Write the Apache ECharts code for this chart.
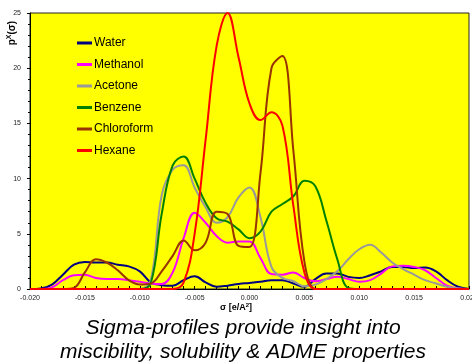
<!DOCTYPE html>
<html>
<head>
<meta charset="utf-8">
<script src="https://cdn.jsdelivr.net/npm/echarts@6/dist/echarts.min.js"></script>
<style>
    html, body { margin: 0; padding: 0; background: #fff; }
    #chart { width: 472px; height: 364px; }
</style>
</head>
<body>
<div id="chart"></div>
<script>
var sigma = [-0.020, -0.019, -0.018, -0.017, -0.016, -0.015, -0.014, -0.013, -0.012, -0.011,
    -0.010, -0.009, -0.008, -0.007, -0.006, -0.005, -0.004, -0.003, -0.002, -0.001,
    0.000, 0.001, 0.002, 0.003, 0.004, 0.005, 0.006, 0.007, 0.008, 0.009,
    0.010, 0.011, 0.012, 0.013, 0.014, 0.015, 0.016, 0.017, 0.018, 0.019, 0.020];

var water = [0, 0.05, 0.4, 1.3, 2.2, 2.45, 2.4, 2.4, 2.2, 2.05,
    1.6, 0.6, 0.35, 0.3, 0.8, 1.15, 0.6, 0.2, 0.3, 0.45,
    0.55, 0.65, 0.8, 0.8, 0.5, 0.2, 0.9, 1.4, 1.4, 1.1,
    1.0, 1.25, 1.6, 2.0, 2.0, 1.9, 1.95, 1.6, 0.8, 0.2, 0];

var methanol = [0, 0, 0.15, 0.8, 1.25, 1.3, 1.0, 0.9, 0.9, 0.8,
    0.65, 0.5, 0.45, 1.5, 4.6, 6.9, 6.0, 4.8, 4.2, 4.3,
    4.3, 2.8, 1.35, 1.3, 1.5, 1.0, 0.7, 0.9, 1.1, 0.9,
    0.65, 0.8, 1.4, 2.05, 2.1, 2.0, 1.7, 1.0, 0.3, 0.05, 0];

var acetone = [0, 0, 0, 0, 0, 0, 0, 0, 0, 0,
    0, 0.8, 8.5, 10.8, 11.2, 9.2, 7.4, 6.0, 6.5, 8.3,
    9.2, 6.5, 2.0, 1.0, 0.7, 0.25, 0.4, 0.9, 1.6, 2.7,
    3.6, 4.0, 3.3, 2.4, 1.8, 1.3, 0.8, 0.5, 0.2, 0.05, 0];

var benzene = [0, 0, 0, 0, 0, 0, 0, 0, 0, 0,
    0, 0.5, 6.8, 11.2, 12.0, 10.0, 7.8, 6.4, 6.1, 5.4,
    4.6, 5.2, 7.0, 7.7, 8.4, 9.8, 9.3, 6.2, 2.7, 0.1,
    0, 0, 0, 0, 0, 0, 0, 0, 0, 0, 0];

var chloroform = [0, 0, 0, 0, 0.1, 1.5, 2.7, 2.4, 1.7, 0.8,
    0.4, 0.5, 1.6, 3.0, 4.4, 3.5, 4.2, 7.0, 6.8, 3.9,
    3.8, 10.5, 20.0, 21.1, 12.5, 2.5, 0, 0, 0, 0,
    0, 0, 0, 0, 0, 0, 0, 0, 0, 0, 0];

var hexane = [0, 0, 0, 0, 0, 0, 0, 0, 0, 0,
    0, 0, 0, 0, 0.6, 5.0, 13.5, 22.0, 25.0, 21.0,
    16.8, 15.3, 16.0, 14.8, 7.5, 1.5, 0, 0, 0, 0,
    0, 0, 0, 0, 0, 0, 0, 0, 0, 0, 0];

var names = ['Water', 'Methanol', 'Acetone', 'Benzene', 'Chloroform', 'Hexane'];
var colors = ['#000080', '#ff00ff', '#999999', '#008000', '#993300', '#ff0000'];
var profiles = [water, methanol, acetone, benzene, chloroform, hexane];

var chart = echarts.init(document.getElementById('chart'));

var series = profiles.map(function(vals, i) {
    return {
        name: names[i],
        type: 'line',
        smooth: 0.4,
        showSymbol: false,
        lineStyle: { color: colors[i], width: 2 },
        itemStyle: { color: colors[i] },
        data: vals.map(function(v, k) { return [sigma[k], v]; })
    };
});

chart.setOption({
    animation: false,
    backgroundColor: '#ffffff',
    grid: {
        left: 30, top: 13, right: 3, bottom: 75,
        containLabel: false,
        outerBoundsMode: 'none',
        show: true,
        backgroundColor: '#ffff00',
        borderColor: '#222',
        borderWidth: 1
    },
    legend: {
        data: names,
        orient: 'vertical',
        left: 77, top: 37,
        padding: 0,
        itemWidth: 15, itemHeight: 3,
        itemGap: 9.5,
        icon: 'rect',
        textStyle: { fontFamily: 'Liberation Sans', fontSize: 12, color: '#000', padding: [0, 0, 0, -3] }
    },
    xAxis: {
        type: 'value',
        min: -0.02, max: 0.02, interval: 0.005,
        axisLine: { onZero: false, lineStyle: { color: '#000', width: 1 } },
        axisTick: { inside: true, length: 3, lineStyle: { color: '#000' } },
        minorTick: { show: true, splitNumber: 5, length: 3, lineStyle: { color: '#000' } },
        splitLine: { show: false },
        axisLabel: {
            fontFamily: 'Liberation Sans', fontSize: 7, color: '#222', margin: 6,
            formatter: function(v) { return v.toFixed(3); }
        }
    },
    yAxis: {
        type: 'value',
        min: 0, max: 25, interval: 5,
        axisLine: { onZero: false, lineStyle: { color: '#000', width: 1 } },
        axisTick: { length: 3, lineStyle: { color: '#000' } },
        minorTick: { show: true, splitNumber: 5, length: 2, lineStyle: { color: '#000' } },
        splitLine: { show: false },
        axisLabel: { fontFamily: 'Liberation Sans', fontSize: 7, color: '#222', margin: 9 }
    },
    graphic: [
        {
            type: 'text', left: 6, top: 21, rotation: Math.PI / 2,
            style: {
                text: '{b|p}{s|X}{b|(σ)}',
                rich: {
                    b: { fontFamily: 'Liberation Sans', fontSize: 10, fontWeight: 'bold', fill: '#000' },
                    s: { fontFamily: 'Liberation Sans', fontSize: 7, fontWeight: 'bold', fill: '#000', verticalAlign: 'top', padding: [0, 0, 5, 0] }
                }
            }
        },
        {
            type: 'text', left: 'center', top: 302,
            style: {
                text: '{b|σ [e/A}{s|2}{b|]}',
                rich: {
                    b: { fontFamily: 'Liberation Sans', fontSize: 9, fontWeight: 'bold', fill: '#000' },
                    s: { fontFamily: 'Liberation Sans', fontSize: 6, fontWeight: 'bold', fill: '#000', padding: [0, 0, 5, 0] }
                }
            }
        },
        {
            type: 'text', x: 243, y: 316,
            style: {
                text: 'Sigma-profiles provide insight into\nmiscibility, solubility & ADME properties',
                align: 'center',
                fontFamily: 'Liberation Sans', fontSize: 21, fontStyle: 'italic',
                lineHeight: 24, fill: '#000'
            }
        }
    ],
    series: series
});
</script>
</body>
</html>
